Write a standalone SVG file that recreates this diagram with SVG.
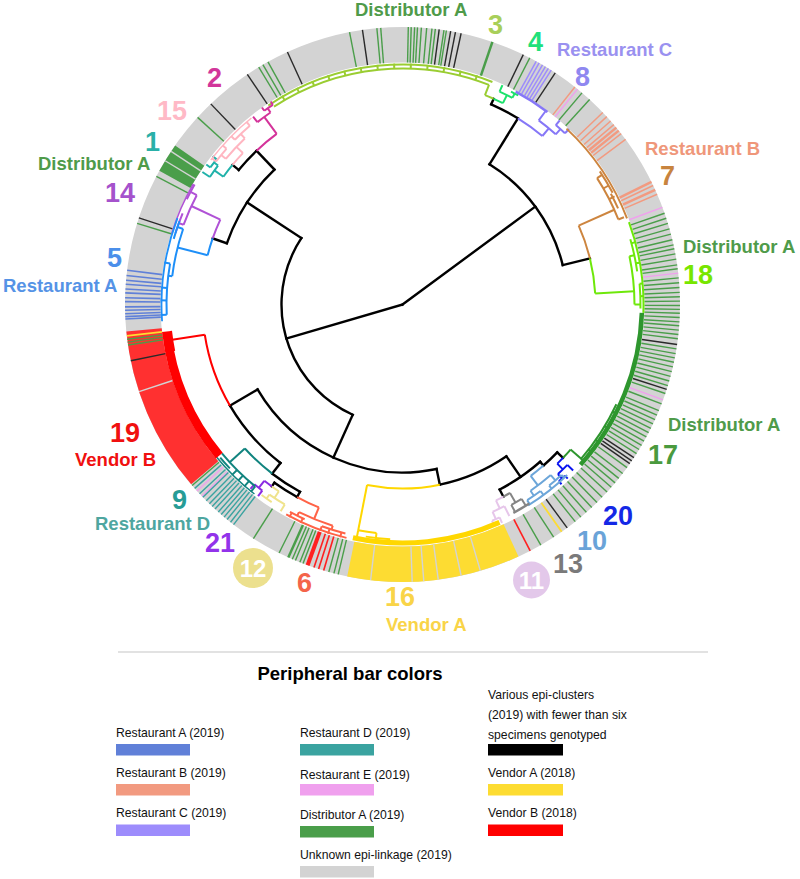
<svg xmlns="http://www.w3.org/2000/svg" width="800" height="879" viewBox="0 0 800 879">
<style>
.lab{font-family:"Liberation Sans",Arial,sans-serif;font-weight:bold}
.wl{font-size:18.5px}
.nm{font-size:27px}
.lg{font-family:"Liberation Sans",Arial,sans-serif;font-size:12.2px;fill:#111}
.tree line,.tree circle{fill:none}
.tree g{stroke-width:2}
</style>
<defs>
<line id="b" x1="0" y1="-242" x2="0" y2="-277.5"/>
</defs>
<rect width="800" height="879" fill="#fff"/>
<g transform="translate(402.5 304.5)">
 <g id="ring" fill="none">
  <circle r="259.75" stroke="#d3d3d3" stroke-width="35.5"/>
  <circle r="259.75" stroke="#fddc32" stroke-width="35.5" pathLength="360" stroke-dasharray="36.2 360" transform="rotate(65.3)"/>
  <circle r="259.75" stroke="#ff3030" stroke-width="35.5" pathLength="360" stroke-dasharray="34.8 360" transform="rotate(139.6)"/>
  <circle r="259.75" stroke="#4a9e4a" stroke-width="35.5" pathLength="360" stroke-dasharray="6.2 360" transform="rotate(208.8)"/>
  <g stroke="#4a9e4a" stroke-width="1.4">
   <use href="#b" transform="rotate(287)"/><use href="#b" transform="rotate(297.5)"/><use href="#b" transform="rotate(312.4)"/><use href="#b" transform="rotate(328.8)"/><use href="#b" transform="rotate(329.8)"/><use href="#b" transform="rotate(331)"/><use href="#b" transform="rotate(349)"/><use href="#b" transform="rotate(354.7)"/><use href="#b" transform="rotate(355.5)"/>
   <use href="#b" transform="rotate(1.2)"/><use href="#b" transform="rotate(1.8)"/><use href="#b" transform="rotate(2.5)"/><use href="#b" transform="rotate(3.1)"/><use href="#b" transform="rotate(3.9)"/><use href="#b" transform="rotate(5)"/><use href="#b" transform="rotate(6.1)"/><use href="#b" transform="rotate(6.8)"/><use href="#b" transform="rotate(8.6)"/><use href="#b" transform="rotate(9.1)"/><use href="#b" transform="rotate(18.9)" stroke-width="2.5"/><use href="#b" transform="rotate(27.3)"/><use href="#b" transform="rotate(40.3)"/><use href="#b" transform="rotate(42.4)"/>
   <use href="#b" transform="rotate(70.8)"/><use href="#b" transform="rotate(71.9)"/><use href="#b" transform="rotate(73)"/><use href="#b" transform="rotate(74.2)"/><use href="#b" transform="rotate(75.3)"/><use href="#b" transform="rotate(76.5)"/><use href="#b" transform="rotate(77.6)"/><use href="#b" transform="rotate(78.4)"/><use href="#b" transform="rotate(79.5)"/><use href="#b" transform="rotate(80.6)"/><use href="#b" transform="rotate(81.8)"/><use href="#b" transform="rotate(82.6)"/><use href="#b" transform="rotate(84.5)"/><use href="#b" transform="rotate(85.5)"/><use href="#b" transform="rotate(86.5)"/><use href="#b" transform="rotate(87.5)"/><use href="#b" transform="rotate(88.4)"/><use href="#b" transform="rotate(89.3)"/><use href="#b" transform="rotate(90.2)"/><use href="#b" transform="rotate(91)"/><use href="#b" transform="rotate(91.8)"/><use href="#b" transform="rotate(92.7)"/><use href="#b" transform="rotate(93.6)"/><use href="#b" transform="rotate(94.4)"/><use href="#b" transform="rotate(95.3)"/><use href="#b" transform="rotate(96.2)"/><use href="#b" transform="rotate(97.1)"/><use href="#b" transform="rotate(99.2)"/><use href="#b" transform="rotate(100.2)"/><use href="#b" transform="rotate(101.1)"/><use href="#b" transform="rotate(102)"/><use href="#b" transform="rotate(103)"/><use href="#b" transform="rotate(104)"/><use href="#b" transform="rotate(105)"/><use href="#b" transform="rotate(106)"/><use href="#b" transform="rotate(107)"/><use href="#b" transform="rotate(108.7)"/><use href="#b" transform="rotate(111)"/><use href="#b" transform="rotate(112.5)"/><use href="#b" transform="rotate(113.5)"/><use href="#b" transform="rotate(114.5)"/><use href="#b" transform="rotate(115.5)"/><use href="#b" transform="rotate(116.5)"/><use href="#b" transform="rotate(117.5)"/><use href="#b" transform="rotate(118.5)"/><use href="#b" transform="rotate(119.5)"/><use href="#b" transform="rotate(120.5)"/><use href="#b" transform="rotate(121.5)"/><use href="#b" transform="rotate(122.5)"/><use href="#b" transform="rotate(126)"/><use href="#b" transform="rotate(127.5)"/><use href="#b" transform="rotate(128.8)"/><use href="#b" transform="rotate(130)"/><use href="#b" transform="rotate(131.2)"/><use href="#b" transform="rotate(132.5)"/><use href="#b" transform="rotate(134)"/><use href="#b" transform="rotate(135.5)"/><use href="#b" transform="rotate(137)"/><use href="#b" transform="rotate(138.5)"/><use href="#b" transform="rotate(140)"/><use href="#b" transform="rotate(141.5)"/><use href="#b" transform="rotate(147)"/><use href="#b" transform="rotate(150.1)"/>
   <use href="#b" transform="rotate(193.4)"/><use href="#b" transform="rotate(194.3)"/><use href="#b" transform="rotate(195.4)"/><use href="#b" transform="rotate(201)"/><use href="#b" transform="rotate(201.7)"/><use href="#b" transform="rotate(202.7)"/><use href="#b" transform="rotate(203.4)"/><use href="#b" transform="rotate(204.3)" stroke-width="2.5"/><use href="#b" transform="rotate(206.4)"/><use href="#b" transform="rotate(212.5)"/><use href="#b" transform="rotate(229.3)"/><use href="#b" transform="rotate(261.6)"/><use href="#b" transform="rotate(262.2)"/><use href="#b" transform="rotate(262.8)"/>
  </g>
  <g stroke="#2a2a2a" stroke-width="1.4">
   <use href="#b" transform="rotate(288.2)"/><use href="#b" transform="rotate(316.3)"/><use href="#b" transform="rotate(326)"/><use href="#b" transform="rotate(335.5)"/><use href="#b" transform="rotate(351.7)"/><use href="#b" transform="rotate(7.6)"/><use href="#b" transform="rotate(10)"/><use href="#b" transform="rotate(11)"/><use href="#b" transform="rotate(12.2)"/><use href="#b" transform="rotate(25.8)"/><use href="#b" transform="rotate(33.4)"/><use href="#b" transform="rotate(98.3)"/><use href="#b" transform="rotate(107.8)"/><use href="#b" transform="rotate(123.5)"/><use href="#b" transform="rotate(124.3)"/><use href="#b" transform="rotate(125)"/><use href="#b" transform="rotate(143.6)"/><use href="#b" transform="rotate(258.3)"/>
  </g>
  <g stroke="#d3d3d3" stroke-width="1.4">
   <use href="#b" transform="rotate(301.2)"/><use href="#b" transform="rotate(303.5)"/><use href="#b" transform="rotate(163.7)"/><use href="#b" transform="rotate(167.8)"/><use href="#b" transform="rotate(172.6)"/><use href="#b" transform="rotate(175.6)"/><use href="#b" transform="rotate(178)"/><use href="#b" transform="rotate(186.6)"/><use href="#b" transform="rotate(251.7)"/>
  </g>
  <g stroke="#f29a80" stroke-width="1.5">
   <use href="#b" transform="rotate(38.4)"/><use href="#b" transform="rotate(46.2)"/><use href="#b" transform="rotate(47.4)"/><use href="#b" transform="rotate(48.6)"/><use href="#b" transform="rotate(49.6)"/><use href="#b" transform="rotate(50.4)" stroke-width="2.5"/><use href="#b" transform="rotate(51.2)" stroke-width="2.5"/><use href="#b" transform="rotate(52)"/><use href="#b" transform="rotate(53.5)"/><use href="#b" transform="rotate(63.8)" stroke-width="2.5"/><use href="#b" transform="rotate(64.6)"/><use href="#b" transform="rotate(65.6)" stroke-width="2.5"/><use href="#b" transform="rotate(66.6)"/>
  </g>
  <g stroke="#f0a0ee" stroke-width="1.4">
   <use href="#b" transform="rotate(39.1)"/><use href="#b" transform="rotate(69.5)"/><use href="#b" transform="rotate(83.5)"/><use href="#b" transform="rotate(110.1)"/><use href="#b" transform="rotate(226.3)"/><use href="#b" transform="rotate(227.8)"/>
  </g>
  <g stroke="#9d8cfc" stroke-width="1.5">
   <use href="#b" transform="rotate(28.8)"/><use href="#b" transform="rotate(29.5)"/><use href="#b" transform="rotate(30.3)"/><use href="#b" transform="rotate(31)"/><use href="#b" transform="rotate(31.7)"/><use href="#b" transform="rotate(32.4)"/>
  </g>
  <g stroke="#6080d8" stroke-width="1.6">
   <use href="#b" transform="rotate(267)"/><use href="#b" transform="rotate(267.5)"/><use href="#b" transform="rotate(268.1)"/><use href="#b" transform="rotate(268.8)"/><use href="#b" transform="rotate(269.5)"/><use href="#b" transform="rotate(270.6)"/><use href="#b" transform="rotate(271.4)"/><use href="#b" transform="rotate(272.4)"/><use href="#b" transform="rotate(273.2)"/><use href="#b" transform="rotate(274.2)"/><use href="#b" transform="rotate(275)"/><use href="#b" transform="rotate(276)"/><use href="#b" transform="rotate(277.1)"/>
  </g>
  <g stroke="#3aa3a0" stroke-width="1.4">
   <use href="#b" transform="rotate(217.5)"/><use href="#b" transform="rotate(218.3)"/><use href="#b" transform="rotate(219.2)"/><use href="#b" transform="rotate(220)"/><use href="#b" transform="rotate(220.8)"/><use href="#b" transform="rotate(221.6)"/><use href="#b" transform="rotate(222.5)"/><use href="#b" transform="rotate(223.3)"/><use href="#b" transform="rotate(224.1)"/><use href="#b" transform="rotate(225)"/><use href="#b" transform="rotate(226)"/><use href="#b" transform="rotate(227)"/><use href="#b" transform="rotate(228.5)"/>
  </g>
  <g stroke="#fddc32" stroke-width="1.8">
   <use href="#b" transform="rotate(145)"/><use href="#b" transform="rotate(263.5)"/>
  </g>
  <g stroke="#ff2020" stroke-width="1.6">
   <use href="#b" transform="rotate(152.6)"/><use href="#b" transform="rotate(196.5)"/><use href="#b" transform="rotate(197.6)"/><use href="#b" transform="rotate(198.6)"/><use href="#b" transform="rotate(200)" stroke-width="4"/>
  </g>
 </g>
 <g class="tree">
  <g id="backbone" stroke="#000" style="stroke-width:2.4" stroke-linecap="square">
   <line y2="-121" transform="rotate(253.7)"/>
   <line y2="-165" transform="rotate(53.6)"/>
   <circle r="121" pathLength="360" stroke-dasharray="99 360" transform="rotate(114.3)"/>
   <circle r="165" pathLength="360" stroke-dasharray="44.4 360" transform="rotate(-58.2)"/>
   <line y1="-165" y2="-219" transform="rotate(31.8)"/>
   <circle r="219" pathLength="360" stroke-dasharray="7.9 360" transform="rotate(-66.1)"/>
   <line y1="-219" y2="-225" transform="rotate(23.9)"/>
   <line y1="-165" y2="-193" transform="rotate(76.2)"/>
   <line y1="-121" y2="-186" transform="rotate(303.3)"/>
   <circle r="186" pathLength="360" stroke-dasharray="27.3 360" transform="rotate(199.2)"/>
   <line y1="-186" y2="-201" transform="rotate(289.2)"/>
   <line y1="-186" y2="-212" transform="rotate(316.5)"/>
   <circle r="212" pathLength="360" stroke-dasharray="7.1 360" transform="rotate(219.4)"/>
   <line y1="-212" y2="-220" transform="rotate(309.4)"/>
   <line y1="-121" y2="-168" transform="rotate(204.3)"/>
   <circle r="168" pathLength="360" stroke-dasharray="71.3 360" transform="rotate(78.3)"/>
   <line y1="-168" y2="-200" transform="rotate(239.6)"/>
   <circle r="200" pathLength="360" stroke-dasharray="22 360" transform="rotate(127.6)"/>
   <line y1="-200" y2="-213.5" transform="rotate(217.6)"/>
   <circle r="213.5" pathLength="360" stroke-dasharray="8.9 360" transform="rotate(118.7)"/>
   <line y1="-213.5" y2="-219.5" transform="rotate(208.7)"/>
   <circle r="219.5" pathLength="360" stroke-dasharray="7 360" transform="rotate(118.7)"/>
   <line y1="-219.5" y2="-224" transform="rotate(215.7)"/>
   <line y1="-168" y2="-184" transform="rotate(168.3)"/>
   <circle r="184" pathLength="360" stroke-dasharray="22.7 360" transform="rotate(55.6)"/>
   <line y1="-184" y2="-209" transform="rotate(145.6)"/>
   <circle r="209" pathLength="360" stroke-dasharray="13.5 360" transform="rotate(48.8)"/>
   <line y1="-209" y2="-217" transform="rotate(152.3)"/>
   <line y1="-209" y2="-214" transform="rotate(138.8)"/>
   <circle r="214" pathLength="360" stroke-dasharray="5.1 360" transform="rotate(43.7)"/>
   <line y1="-214" y2="-222" transform="rotate(133.7)"/>
  </g>
  <g id="cluster-3" stroke="#9acd32">
   <circle r="225" pathLength="360" stroke-dasharray="2.4 360" transform="rotate(-68.5)"/>
   <line y1="-225" y2="-236" transform="rotate(21.5)"/>
   <circle r="236" pathLength="360" stroke-dasharray="54.5 360" transform="rotate(237)"/>
   <circle r="240" pathLength="360" stroke-dasharray="56 360" transform="rotate(236)"/>
   <line y1="-236" y2="-241" transform="rotate(330)"/><line y1="-236" y2="-241" transform="rotate(334)"/><line y1="-236" y2="-241" transform="rotate(338)"/><line y1="-236" y2="-241" transform="rotate(342)"/><line y1="-236" y2="-241" transform="rotate(346)"/><line y1="-236" y2="-241" transform="rotate(350)"/><line y1="-236" y2="-241" transform="rotate(354)"/><line y1="-236" y2="-241" transform="rotate(358)"/><line y1="-236" y2="-241" transform="rotate(2)"/><line y1="-236" y2="-241" transform="rotate(6)"/><line y1="-236" y2="-241" transform="rotate(10)"/><line y1="-236" y2="-241" transform="rotate(14)"/><line y1="-236" y2="-241" transform="rotate(18)"/>
  </g>
  <g id="cluster-4" stroke="#1de26c">
   <circle r="225" pathLength="360" stroke-dasharray="2.6 360" transform="rotate(-66.1)"/>
   <line y1="-225" y2="-234" transform="rotate(26.5)"/>
   <circle r="234" pathLength="360" stroke-dasharray="3.5 360" transform="rotate(-65.5)"/>
   <line y1="-234" y2="-241" transform="rotate(24.5)"/>
   <line y1="-234" y2="-239" transform="rotate(28)"/>
   <circle r="239" pathLength="360" stroke-dasharray="2 360" transform="rotate(-63)"/>
  </g>
  <g id="cluster-8" stroke="#8677f7">
   <circle r="219" pathLength="360" stroke-dasharray="7.9 360" transform="rotate(-58.2)"/>
   <line y1="-219" y2="-229" transform="rotate(39.7)"/>
   <circle r="229" pathLength="360" stroke-dasharray="5.5 360" transform="rotate(-53.5)"/>
   <line y1="-229" y2="-241" transform="rotate(36.5)"/>
   <line y1="-229" y2="-236" transform="rotate(42)"/>
   <circle r="236" pathLength="360" stroke-dasharray="3 360" transform="rotate(-49.5)"/>
   <line y1="-236" y2="-242" transform="rotate(40.5)"/>
   <line y1="-236" y2="-242" transform="rotate(43.5)"/>
   <circle r="241" pathLength="360" stroke-dasharray="9 360" transform="rotate(-62)" style="stroke-width:2.5"/>
  </g>
  <g id="cluster-7" stroke="#cd853f">
   <circle r="193" pathLength="360" stroke-dasharray="10.3 360" transform="rotate(-24.1)"/>
   <line y1="-193" y2="-232" transform="rotate(65.9)"/>
   <circle r="232" pathLength="360" stroke-dasharray="11.5 360" transform="rotate(-33)"/>
   <line y1="-232" y2="-238" transform="rotate(57)"/><line y1="-232" y2="-238" transform="rotate(60)"/><line y1="-232" y2="-238" transform="rotate(63)"/><line y1="-232" y2="-238" transform="rotate(68.5)"/>
   <circle r="238" pathLength="360" stroke-dasharray="6 360" transform="rotate(-34)"/>
   <circle r="236" pathLength="360" stroke-dasharray="4 360" transform="rotate(-28)"/>
   <circle r="240.5" pathLength="360" stroke-dasharray="26 360" transform="rotate(-47)"/>
  </g>
  <g id="cluster-18" stroke="#6ee80a">
   <circle r="193" pathLength="360" stroke-dasharray="10.5 360" transform="rotate(-13.8)"/>
   <line y1="-193" y2="-232" transform="rotate(86.7)"/>
   <circle r="232" pathLength="360" stroke-dasharray="12 360" transform="rotate(-12)"/>
   <line y1="-232" y2="-237" transform="rotate(78)"/>
   <line y1="-232" y2="-238" transform="rotate(90)"/>
   <circle r="237" pathLength="360" stroke-dasharray="8 360" transform="rotate(-16)"/>
   <circle r="238" pathLength="360" stroke-dasharray="6 360" transform="rotate(-5)"/>
   <line y1="-237" y2="-241" transform="rotate(75)"/><line y1="-237" y2="-241" transform="rotate(80)"/><line y1="-238" y2="-241" transform="rotate(85)"/><line y1="-238" y2="-241" transform="rotate(88)"/>
   <circle r="241" pathLength="360" stroke-dasharray="22 360" transform="rotate(-20)"/>
  </g>
  <g id="cluster-17" stroke="#2e962e">
   <circle r="222" pathLength="360" stroke-dasharray="2.9 360" transform="rotate(40.8)"/>
   <line y1="-222" y2="-238" transform="rotate(130.8)"/>
   <circle r="236" pathLength="360" stroke-dasharray="16 360" transform="rotate(25)"/>
   <line y1="-236" y2="-241" transform="rotate(117)"/><line y1="-236" y2="-241" transform="rotate(121)"/><line y1="-236" y2="-241" transform="rotate(125)"/><line y1="-236" y2="-241" transform="rotate(128)"/>
   <circle r="239.5" pathLength="360" stroke-dasharray="40 360" transform="rotate(2)" style="stroke-width:4.5"/>
  </g>
  <g id="cluster-20" stroke="#0a14f0">
   <circle r="222" pathLength="360" stroke-dasharray="2.1 360" transform="rotate(43.7)"/>
   <line y1="-222" y2="-230" transform="rotate(135.8)"/>
   <circle r="230" pathLength="360" stroke-dasharray="3.3 360" transform="rotate(44.2)"/>
   <line y1="-230" y2="-238" transform="rotate(134.2)"/>
   <line y1="-230" y2="-236" transform="rotate(137.5)"/>
   <circle r="236" pathLength="360" stroke-dasharray="2 360" transform="rotate(46.5)"/>
   <line y1="-236" y2="-240" transform="rotate(136.5)"/>
   <line y1="-236" y2="-240" transform="rotate(138.5)"/>
  </g>
  <g id="cluster-10" stroke="#6ca6d9">
   <circle r="214" pathLength="360" stroke-dasharray="4.4 360" transform="rotate(48.8)"/>
   <line y1="-214" y2="-226" transform="rotate(143.2)"/>
   <circle r="226" pathLength="360" stroke-dasharray="6.5 360" transform="rotate(49)"/>
   <line y1="-226" y2="-233" transform="rotate(139)"/>
   <line y1="-226" y2="-232" transform="rotate(145.5)"/>
   <circle r="233" pathLength="360" stroke-dasharray="4 360" transform="rotate(47)"/>
   <circle r="232" pathLength="360" stroke-dasharray="4 360" transform="rotate(53.5)"/>
   <line y1="-233" y2="-237" transform="rotate(137)"/><line y1="-233" y2="-237" transform="rotate(141)"/><line y1="-232" y2="-237" transform="rotate(143.5)"/><line y1="-232" y2="-237" transform="rotate(147.5)"/>
   <circle r="237" pathLength="360" stroke-dasharray="12 360" transform="rotate(46)"/>
  </g>
  <g id="cluster-13" stroke="#858585">
   <circle r="217" pathLength="360" stroke-dasharray="2 360" transform="rotate(60.3)"/>
   <line y1="-217" y2="-228" transform="rotate(150.3)"/>
   <circle r="228" pathLength="360" stroke-dasharray="3 360" transform="rotate(58.5)"/>
   <line y1="-228" y2="-236" transform="rotate(148.5)"/>
   <line y1="-228" y2="-235" transform="rotate(151.5)"/>
   <circle r="236" pathLength="360" stroke-dasharray="4.5 360" transform="rotate(57.5)" style="stroke-width:2.5"/>
  </g>
  <g id="cluster-11" stroke="#e6c6ea">
   <circle r="217" pathLength="360" stroke-dasharray="2.2 360" transform="rotate(62.3)"/>
   <line y1="-217" y2="-226" transform="rotate(154.5)"/>
   <circle r="226" pathLength="360" stroke-dasharray="3.3 360" transform="rotate(63.2)"/>
   <line y1="-226" y2="-237" transform="rotate(153.2)"/>
   <line y1="-226" y2="-234" transform="rotate(156.5)"/>
   <circle r="234" pathLength="360" stroke-dasharray="2 360" transform="rotate(65.5)"/>
   <line y1="-234" y2="-240" transform="rotate(155.5)"/>
   <line y1="-234" y2="-240" transform="rotate(157.5)"/>
  </g>
  <g id="cluster-16" stroke="#ffd700">
   <circle r="184" pathLength="360" stroke-dasharray="22.8 360" transform="rotate(78.3)"/>
   <line y1="-184" y2="-230" transform="rotate(191.1)"/>
   <circle r="230" pathLength="360" stroke-dasharray="4.6 360" transform="rotate(96.5)"/>
   <line y1="-230" y2="-236" transform="rotate(186.5)"/>
   <line y1="-230" y2="-237" transform="rotate(191.1)"/>
   <circle r="235" pathLength="360" stroke-dasharray="6 360" transform="rotate(93)"/>
   <circle r="238.5" pathLength="360" stroke-dasharray="36 360" transform="rotate(66)" style="stroke-width:5"/>
  </g>
  <g id="cluster-6" stroke="#ff6347">
   <circle r="219.5" pathLength="360" stroke-dasharray="6.3 360" transform="rotate(112.4)"/>
   <line y1="-219.5" y2="-232" transform="rotate(202.4)"/>
   <circle r="232" pathLength="360" stroke-dasharray="9 360" transform="rotate(107.5)"/>
   <line y1="-232" y2="-236" transform="rotate(197.5)"/>
   <line y1="-232" y2="-236" transform="rotate(206.5)"/>
   <circle r="236" pathLength="360" stroke-dasharray="6 360" transform="rotate(104)"/>
   <circle r="236" pathLength="360" stroke-dasharray="4 360" transform="rotate(114.5)"/>
   <line y1="-236" y2="-241" transform="rotate(195)"/><line y1="-236" y2="-241" transform="rotate(198)"/><line y1="-236" y2="-241" transform="rotate(200)"/><line y1="-236" y2="-241" transform="rotate(205)"/><line y1="-236" y2="-241" transform="rotate(208)"/>
   <circle r="240" pathLength="360" stroke-dasharray="15.5 360" transform="rotate(103.5)"/>
  </g>
  <g id="cluster-12" stroke="#efe38c">
   <circle r="224" pathLength="360" stroke-dasharray="2.2 360" transform="rotate(123.5)"/>
   <line y1="-224" y2="-232" transform="rotate(213.5)"/>
   <circle r="232" pathLength="360" stroke-dasharray="4.5 360" transform="rotate(120.5)"/>
   <line y1="-232" y2="-240" transform="rotate(210.5)"/>
   <line y1="-232" y2="-237" transform="rotate(215)"/>
   <circle r="237" pathLength="360" stroke-dasharray="3 360" transform="rotate(123.5)"/>
  </g>
  <g id="cluster-21" stroke="#8a2be2">
   <circle r="224" pathLength="360" stroke-dasharray="2.4 360" transform="rotate(125.7)"/>
   <line y1="-224" y2="-233" transform="rotate(218.1)"/>
   <circle r="233" pathLength="360" stroke-dasharray="2.5 360" transform="rotate(127)"/>
   <line y1="-233" y2="-240" transform="rotate(217)"/>
   <line y1="-233" y2="-239" transform="rotate(219.5)"/>
  </g>
  <g id="cluster-9" stroke="#11847f">
   <circle r="213.5" pathLength="360" stroke-dasharray="10 360" transform="rotate(127.6)"/>
   <line y1="-213.5" y2="-234" transform="rotate(227.6)"/>
   <circle r="234" pathLength="360" stroke-dasharray="11.5 360" transform="rotate(129)"/>
   <line y1="-234" y2="-241" transform="rotate(219)"/><line y1="-234" y2="-241" transform="rotate(221)"/><line y1="-234" y2="-241" transform="rotate(223)"/><line y1="-234" y2="-241" transform="rotate(225)"/>
   <circle r="238" pathLength="360" stroke-dasharray="3.5 360" transform="rotate(136.5)"/>
   <circle r="240.5" pathLength="360" stroke-dasharray="13 360" transform="rotate(128)" style="stroke-width:1.5"/>
  </g>
  <g id="cluster-19" stroke="#ff0000">
   <circle r="200" pathLength="360" stroke-dasharray="21.7 360" transform="rotate(149.6)"/>
   <line y1="-200" y2="-233" transform="rotate(261.3)"/>
   <circle r="233" pathLength="360" stroke-dasharray="5 360" transform="rotate(168.5)"/>
   <circle r="237.5" pathLength="360" stroke-dasharray="33 360" transform="rotate(140.5)" style="stroke-width:9"/>
  </g>
  <g id="cluster-14" stroke="#b052d6">
   <circle r="201" pathLength="360" stroke-dasharray="5.8 360" transform="rotate(199.2)"/>
   <line y1="-201" y2="-233" transform="rotate(295)"/>
   <circle r="233" pathLength="360" stroke-dasharray="8 360" transform="rotate(200)"/>
   <line y1="-233" y2="-238" transform="rotate(290)"/>
   <line y1="-233" y2="-240" transform="rotate(298)"/>
   <circle r="238" pathLength="360" stroke-dasharray="5 360" transform="rotate(197.5)"/>
   <circle r="240" pathLength="360" stroke-dasharray="4 360" transform="rotate(206)"/>
   <circle r="241.5" pathLength="360" stroke-dasharray="13 360" transform="rotate(197)" style="stroke-width:1.5"/>
  </g>
  <g id="cluster-5" stroke="#1e8ff8">
   <circle r="201" pathLength="360" stroke-dasharray="5 360" transform="rotate(194.2)"/>
   <line y1="-201" y2="-232" transform="rotate(284.2)"/>
   <circle r="232" pathLength="360" stroke-dasharray="12 360" transform="rotate(187)"/>
   <line y1="-232" y2="-238" transform="rotate(289)"/>
   <line y1="-232" y2="-236" transform="rotate(277)"/>
   <circle r="238" pathLength="360" stroke-dasharray="4.5 360" transform="rotate(196)"/>
   <circle r="236" pathLength="360" stroke-dasharray="12.5 360" transform="rotate(177.5)"/>
   <line y1="-236" y2="-242" transform="rotate(267.5)"/><line y1="-236" y2="-242" transform="rotate(271)"/><line y1="-236" y2="-242" transform="rotate(274)"/><line y1="-236" y2="-242" transform="rotate(280)"/>
   <circle r="241" pathLength="360" stroke-dasharray="25 360" transform="rotate(176)" style="stroke-width:1.8"/>
  </g>
  <g id="cluster-1" stroke="#20b2aa">
   <circle r="220" pathLength="360" stroke-dasharray="3.9 360" transform="rotate(215.5)"/>
   <line y1="-220" y2="-231" transform="rotate(305.5)"/>
   <circle r="231" pathLength="360" stroke-dasharray="3.5 360" transform="rotate(213.5)"/>
   <line y1="-231" y2="-240" transform="rotate(303.5)"/>
   <line y1="-231" y2="-236" transform="rotate(307)"/>
   <circle r="236" pathLength="360" stroke-dasharray="2.5 360" transform="rotate(215.5)"/>
   <line y1="-236" y2="-241" transform="rotate(305.5)"/>
   <line y1="-236" y2="-241" transform="rotate(308)"/>
  </g>
  <g id="cluster-15" stroke="#ffb6c1">
   <circle r="220" pathLength="360" stroke-dasharray="4.1 360" transform="rotate(219.4)"/>
   <line y1="-220" y2="-229" transform="rotate(313.5)"/>
   <circle r="229" pathLength="360" stroke-dasharray="7 360" transform="rotate(219.5)"/>
   <line y1="-229" y2="-235" transform="rotate(309.5)"/>
   <line y1="-229" y2="-235" transform="rotate(316.5)"/>
   <circle r="235" pathLength="360" stroke-dasharray="4 360" transform="rotate(217.5)"/>
   <circle r="235" pathLength="360" stroke-dasharray="5 360" transform="rotate(224.5)"/>
   <line y1="-235" y2="-240" transform="rotate(307.5)"/><line y1="-235" y2="-240" transform="rotate(311.5)"/><line y1="-235" y2="-240" transform="rotate(314.5)"/><line y1="-235" y2="-240" transform="rotate(319.5)"/>
   <circle r="240" pathLength="360" stroke-dasharray="14 360" transform="rotate(217)" style="stroke-width:1.5"/>
  </g>
  <g id="cluster-2" stroke="#d4339a">
   <circle r="212" pathLength="360" stroke-dasharray="7.1 360" transform="rotate(226.5)"/>
   <line y1="-212" y2="-233" transform="rotate(323.6)"/>
   <circle r="233" pathLength="360" stroke-dasharray="4 360" transform="rotate(231.5)"/>
   <line y1="-233" y2="-240" transform="rotate(321.5)"/>
   <line y1="-233" y2="-238" transform="rotate(325.5)"/>
   <circle r="238" pathLength="360" stroke-dasharray="2.5 360" transform="rotate(234.5)"/>
   <line y1="-238" y2="-242" transform="rotate(324.5)"/>
   <line y1="-238" y2="-242" transform="rotate(327)"/>
  </g>
 </g>
</g>
<g id="labels" class="lab">
 <text class="wl" x="355" y="16" fill="#4f9b4a">Distributor A</text>
 <text class="nm" x="488" y="34" fill="#a8cf5a">3</text>
 <text class="nm" x="528" y="51" fill="#20e07a">4</text>
 <text class="wl" x="557" y="56" fill="#9a91f0">Restaurant C</text>
 <text class="nm" x="575" y="86" fill="#8f88f0">8</text>
 <text class="wl" x="645" y="155" fill="#ef977a">Restaurant B</text>
 <text class="nm" x="660" y="185" fill="#c8843e">7</text>
 <text class="wl" x="683" y="253" fill="#4f9b4a">Distributor A</text>
 <text class="nm" x="683" y="284" fill="#77e600">18</text>
 <text class="wl" x="668" y="431" fill="#4f9b4a">Distributor A</text>
 <text class="nm" x="648" y="464" fill="#4a9a3e">17</text>
 <text class="nm" x="603" y="525" fill="#1428e6">20</text>
 <text class="nm" x="577" y="550" fill="#6aa3d8">10</text>
 <text class="nm" x="553" y="573" fill="#7a7a7a">13</text>
 <circle cx="531.5" cy="580" r="18.5" fill="#e3c8ea"/>
 <text x="531.5" y="588.5" font-size="24" text-anchor="middle" fill="#fff">11</text>
 <text class="nm" x="385" y="606" fill="#f9d448">16</text>
 <text class="wl" x="386" y="631" fill="#f9d448">Vendor A</text>
 <text class="nm" x="297" y="592" fill="#f4644a">6</text>
 <circle cx="253" cy="568" r="20" fill="#ece08e"/>
 <text x="253" y="576.5" font-size="24" text-anchor="middle" fill="#fff">12</text>
 <text class="nm" x="205" y="552" fill="#9233ea">21</text>
 <text class="nm" x="172" y="509" fill="#279c96">9</text>
 <text class="wl" x="95" y="530" fill="#4ea6a0">Restaurant D</text>
 <text class="nm" x="110" y="442" fill="#f01010">19</text>
 <text class="wl" x="75" y="466" fill="#f01010">Vendor B</text>
 <text class="wl" x="3" y="292" fill="#5593e6">Restaurant A</text>
 <text class="nm" x="107" y="267" fill="#4b8fea">5</text>
 <text class="nm" x="105" y="202" fill="#a552cc">14</text>
 <text class="wl" x="38" y="170" fill="#4f9b4a">Distributor A</text>
 <text class="nm" x="145" y="151" fill="#2ab0a8">1</text>
 <text class="nm" x="157" y="120" fill="#ffb9c6">15</text>
 <text class="nm" x="207" y="87" fill="#d2369a">2</text>
</g>
<g id="legend">
 <line x1="118" y1="652" x2="708" y2="652" stroke="#d9d9d9" stroke-width="1.5"/>
 <text x="350" y="680" text-anchor="middle" class="lab" font-size="18.5" fill="#000">Peripheral bar colors</text>
 <text class="lg" x="116" y="737">Restaurant A (2019)</text>
 <rect x="116" y="744" width="74" height="11.5" fill="#6080d8"/>
 <text class="lg" x="116" y="777">Restaurant B (2019)</text>
 <rect x="116" y="784" width="74" height="11.5" fill="#f29a80"/>
 <text class="lg" x="116" y="817">Restaurant C (2019)</text>
 <rect x="116" y="824.5" width="74" height="11.5" fill="#9d8cfc"/>
 <text class="lg" x="300" y="737">Restaurant D (2019)</text>
 <rect x="300" y="744" width="74" height="11.5" fill="#3aa3a0"/>
 <text class="lg" x="300" y="779">Restaurant E (2019)</text>
 <rect x="300" y="784" width="74" height="11.5" fill="#f0a0ee"/>
 <text class="lg" x="300" y="819">Distributor A (2019)</text>
 <rect x="300" y="826" width="74" height="11.5" fill="#4a9e4a"/>
 <text class="lg" x="300" y="859">Unknown epi-linkage (2019)</text>
 <rect x="300" y="866" width="74" height="11.5" fill="#d3d3d3"/>
 <text class="lg" x="488" y="699">Various epi-clusters</text>
 <text class="lg" x="488" y="719">(2019) with fewer than six</text>
 <text class="lg" x="488" y="739">specimens genotyped</text>
 <rect x="488" y="744" width="75" height="11.5" fill="#000"/>
 <text class="lg" x="488" y="777">Vendor A (2018)</text>
 <rect x="488" y="784" width="75" height="11.5" fill="#fddc32"/>
 <text class="lg" x="488" y="817">Vendor B (2018)</text>
 <rect x="488" y="824.5" width="75" height="11.5" fill="#ff0000"/>
</g>
</svg>
